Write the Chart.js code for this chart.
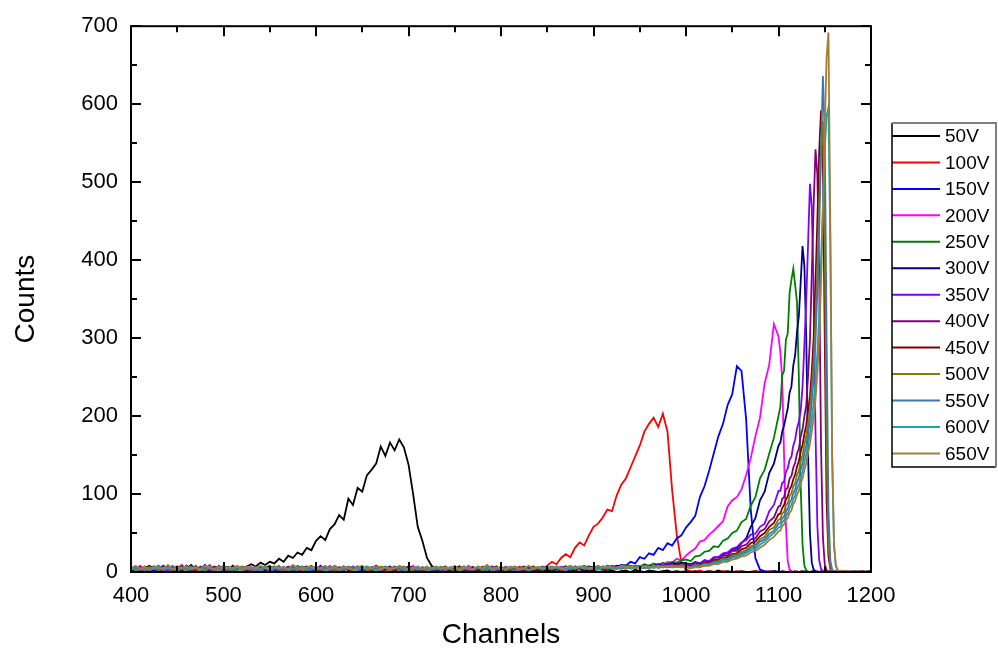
<!DOCTYPE html>
<html>
<head>
<meta charset="utf-8">
<script src="https://cdn.jsdelivr.net/npm/chart.js@4/dist/chart.umd.min.js"></script>
<style>
  html, body { margin: 0; padding: 0; background: #fff; }
  canvas { display: block; }
</style>
</head>
<body>
<canvas id="c" width="998" height="652"></canvas>
<script>
// ---------- DATA ----------
const channels = [
  400,405,410,415,420,425,430,435,440,445,450,455,460,465,470,475,480,485,490,495,
  500,505,510,515,520,525,530,535,540,545,550,555,560,565,570,575,580,585,590,595,
  600,605,610,615,620,625,630,635,640,645,650,655,660,665,670,675,680,685,690,695,
  700,705,710,715,720,725,730,735,740,745,750,755,760,765,770,775,780,785,790,795,
  800,805,810,815,820,825,830,835,840,845,850,855,860,865,870,875,880,885,890,895,
  900,905,910,915,920,925,930,935,940,945,950,955,960,965,970,975,980,985,990,995,
  1000,1005,1010,1015,1020,1025,1030,1035,1040,1045,1050,1055,1060,1065,1070,1075,1080,1085,1090,1095,
  1100,
  1102,1104,1106,1108,1110,1112,1114,1116,1118,1120,
  1122,1124,1126,1128,1130,1132,1134,1136,1138,1140,
  1142,1144,1146,1148,1150,1152,1154,1156,1158,1160,
  1162,1164,1166,1168,1170,1172,1174,1176,1178,1180,
  1182,1184,1186,1188,1190,1192,1194,1196,1198,1200
];

const seriesLabels = ['50V','100V','150V','200V','250V','300V','350V','400V','450V','500V','550V','600V','650V'];
const seriesColors = ['#000000','#FF0000','#0000FF','#FF00FF','#008000','#000080','#8000FF','#800080','#800000','#808000','#3F74B5','#1FA3A3','#A67C3A'];

const xTicks = [400,500,600,700,800,900,1000,1100,1200];
const yTicks = [0,100,200,300,400,500,600,700];

const v50 = [
  3,6,2,5,8,4,2,7,3,5, 1,6,4,9,3,5,2,7,4,3, 6,2,8,4,5,7,
  10,7,12,9,13,11,17,13,21,18, 25,22,31,28,40,46,41,55,61,73, 67,94,86,108,103,124,131,139,161,149, 166,156,170,160,138,100,58,40,18,8,
  3,1,4,2,0,3,1,5,2,0, 3,1,2,4,0,2,3,1,0,2, 4,1,3,2,
  1,3,0,2,4,1,2,0,3,1, 2,0,1,3,2,0,1,2,0,3, 1,0,2,1,0,1,2,0,1,0, 1,
  0,1,0,0,1,0,2,0,1,0, 0,1,0,0,1,0,0,0,1,0,
  0,1,0,0,0,1,0,0,1,0, 0,0,1,0,0,0,0,1,0,0, 0,0,0,1,0,0,0,0,0,1, 0,0,0,0,1,0,0,0,0,0, 1,0,0,0,0,0,0,1,0,0
];
const v100 = [
  4,2,6,3,1,5,7,2,4,3, 6,1,5,2,8,3,4,6,2,5, 3,7,1,4,6,2,
  5,3,7,2,4,6,1,5,3,8, 2,4,6,3,5,1,7,4,2,6, 3,5,2,7,4,1,6,3,5,2, 4,7,3,1,5,2,6,4,3,5,
  2,6,4,3,7,1,5,3,6,2, 4,8,3,5,2,6,4,3,7,2, 5,4,6,5,
  8,13,10,18,23,19,31,38,34,47, 58,62,70,80,78,98,112,120,134,148, 162,180,190,198,186,203,180,105,48,12, 3,
  1,0,2,0,1,0,0,1,0,0, 1,0,0,0,1,0,0,1,0,0,
  0,0,1,0,0,0,0,0,1,0, 0,1,0,0,0,0,0,0,0,1, 0,0,0,0,1,0,0,0,0,0, 0,1,0,0,0,0,1,0,0,0, 0,0,0,1,0,0,0,0,1,0
];
const v150 = [
  5,2,7,3,6,1,4,8,2,5, 3,7,4,2,6,3,9,1,5,4, 2,6,3,7,2,5,
  3,6,2,5,8,1,4,3,7,2, 5,4,6,1,3,8,2,5,4,3, 6,2,7,4,1,5,3,6,2,4, 7,3,5,2,6,4,1,5,3,6,
  4,2,6,3,5,1,7,3,4,2, 6,5,3,7,2,4,6,3,5,2, 4,7,3,5,
  4,6,3,5,7,4,6,3,5,7, 4,6,5,8,6,7,9,8,13,11, 19,17,24,22,31,28,37,34,43,47, 57,
  64,72,96,110,130,152,174,190,214,228, 264,258,196,80,18,3,1,0,1,0,
  0,1,0,0,0,0,1,0,0,0, 0,0,0,1,0,0,0,0,1,0, 1,0,0,0,0,0,0,1,0,0, 0,0,1,0,0,0,0,0,0,1, 0,0,0,0,0,1,0,0,0,0
];
const v200 = [
  6,3,8,2,5,4,7,1,6,3, 5,9,2,4,6,3,7,5,2,8, 4,3,6,2,5,7,
  4,7,2,6,3,5,8,2,4,6, 1,5,7,3,4,6,2,8,3,5, 4,7,2,6,3,5,1,6,4,7, 2,5,3,6,4,8,2,5,3,4,
  5,3,7,2,6,4,3,8,2,5, 6,3,4,7,2,5,3,6,4,2, 7,3,5,4,
  3,6,4,7,2,5,6,3,7,4, 6,5,3,7,5,6,4,8,6,5, 7,6,8,7,10,8,13,12,17,15, 21,
  26,30,39,41,48,53,59,65,84,92, 96,106,124,146,174,198,242,266,318,302,
  282,248,150,60,14,3,1,0,0,1, 0,0,0,0,1,0,0,0,0,0, 0,0,1,0,0,0,0,0,0,0, 0,1,0,0,0,0,0,1,0,0, 0,0,0,0,1,0,0,0,0,0
];
const v250 = [
  2,5,3,7,4,6,1,5,8,3, 4,2,6,5,3,7,2,4,6,3, 8,5,2,4,7,3,
  6,2,5,3,7,4,2,6,5,3, 8,4,2,5,6,3,7,2,4,5, 3,6,2,7,4,3,5,8,2,6, 4,3,5,7,2,4,6,3,5,2,
  3,6,4,2,7,5,3,4,6,2, 5,8,3,4,6,5,2,7,4,3, 5,6,4,7,
  5,3,6,4,7,5,3,6,8,5, 4,7,6,5,8,6,7,9,6,8, 7,10,8,11,9,12,10,13,12,15, 16,
  14,20,21,26,27,33,32,40,43,50, 53,64,68,85,96,120,131,152,172,200,
  212,252,258,298,306,358,375,389,368,346, 250,110,35,8,2,1,0,0,1,0, 0,0,0,1,0,0,0,0,0,0, 0,0,1,0,0,0,0,0,1,0, 0,0,0,0,0,1,0,0,0,0
];
const v300 = [
  4,1,6,3,5,7,2,4,3,6, 5,2,8,4,3,5,1,6,4,7, 3,2,5,6,4,3,
  5,3,6,2,4,7,3,5,2,6, 4,3,5,8,2,4,6,3,5,2, 7,4,3,6,5,2,4,7,3,5, 6,2,4,3,7,5,2,6,4,3,
  6,3,5,2,4,7,3,5,6,2, 4,3,7,5,2,6,4,3,5,7, 2,4,6,5,
  4,6,3,5,7,4,6,5,3,7, 5,6,4,7,5,8,6,7,5,8, 6,9,7,8,10,8,9,11,10,12, 11,
  10,13,11,15,13,18,19,23,24,29, 30,37,43,58,69,92,103,127,139,162,
  166,180,188,199,210,230,238,265,278,308, 328,372,418,392,300,150,50,12,3,1, 0,0,1,0,0,0,0,0,0,0, 0,0,0,1,0,0,0,0,0,0, 0,1,0,0,0,0,0,0,1,0
];
const v350 = [
  3,7,2,5,4,6,8,3,2,5, 7,4,3,6,2,5,4,9,3,5, 6,2,4,7,3,5,
  2,5,7,3,4,6,2,5,3,7, 4,2,6,5,3,4,7,2,5,6, 3,4,2,7,5,3,6,4,2,5, 3,7,4,6,2,5,3,4,6,2,
  5,2,4,6,3,7,4,2,5,3, 6,4,7,2,5,3,4,6,2,5, 7,3,4,6,
  6,4,5,3,6,7,4,5,6,3, 7,5,6,4,7,5,6,8,5,7, 6,8,7,6,9,7,8,10,8,9, 10,
  9,12,10,15,14,19,19,24,25,30, 32,38,41,48,49,58,62,78,86,104,
  104,114,116,128,133,144,148,162,170,184, 193,207,238,292,348,422,498,468,360,180, 60,15,4,1,0,0,0,1,0,0, 0,0,0,0,1,0,0,0,0,0, 0,0,1,0,0,0,0,0,0,0
];
const v400 = [
  5,3,6,2,7,4,3,5,6,2, 4,8,3,5,2,6,4,3,7,5, 2,4,6,3,5,4,
  6,3,4,7,2,5,3,6,4,2, 5,7,3,4,6,2,5,3,8,4, 2,6,5,3,4,7,2,5,3,6, 4,2,7,3,5,4,6,2,5,3,
  4,6,2,5,3,7,4,5,2,6, 3,4,5,7,2,4,6,3,5,2, 6,4,3,5,
  5,3,6,4,5,7,3,6,4,5, 7,4,6,5,4,7,5,6,8,5, 7,6,8,7,6,9,7,8,9,7, 9,
  8,10,10,13,12,16,16,21,21,27, 27,33,35,42,43,52,55,65,70,84,
  85,94,96,106,108,120,123,134,140,152, 158,174,183,200,214,252,298,382,470,542, 510,380,160,45,10,2,1,0,0,1, 0,0,0,0,0,1,0,0,0,0, 0,0,0,1,0,0,0,0,0,0
];
const v450 = [
  3,6,4,2,5,7,3,4,6,2, 5,3,8,4,2,6,3,5,4,7, 2,6,3,5,4,2,
  4,6,3,5,2,7,4,3,6,5, 2,4,7,3,5,2,6,4,3,5, 7,2,4,6,3,5,2,8,4,3, 6,2,5,4,7,3,5,2,4,6,
  3,5,7,2,4,6,3,5,4,2, 7,3,5,6,2,4,3,6,5,2, 4,7,3,5,
  4,6,5,3,6,4,7,5,4,6, 5,7,4,6,5,4,7,6,5,7, 6,5,8,6,7,6,8,7,9,8, 8,
  7,9,9,12,11,14,15,18,19,23, 24,29,31,37,39,46,50,58,63,74,
  75,82,86,93,97,106,110,119,125,135, 142,154,163,177,188,207,225,257,300,372, 450,540,592,520,300,90,20,4,1,0, 1,0,0,0,0,0,1,0,0,0, 0,0,0,0,1,0,0,0,0,0
];
const v500 = [
  6,2,4,7,3,5,2,6,4,3, 7,5,2,4,6,3,5,8,2,4, 3,6,5,2,7,4,
  3,5,2,6,4,7,3,5,2,4, 6,3,5,7,2,4,3,6,5,2, 7,4,3,5,6,2,4,3,7,5, 2,6,4,3,5,2,6,4,7,3,
  5,3,6,4,2,5,7,3,4,6, 2,5,3,4,7,2,5,6,3,4, 2,6,5,3,
  5,4,6,3,5,6,4,7,5,4, 6,5,7,4,6,5,7,5,6,8, 5,7,6,7,8,6,7,8,7,9, 7,
  6,9,8,11,10,13,14,17,17,21, 22,26,28,33,35,42,45,54,57,67,
  68,75,77,86,88,97,101,110,114,125, 130,142,149,164,174,192,209,237,270,322, 390,470,545,578,430,160,35,6,1,0, 0,1,0,0,0,0,0,0,1,0, 0,0,0,0,0,0,1,0,0,0
];
const v550 = [
  4,7,3,5,2,6,4,3,5,8, 2,4,6,3,5,2,7,4,3,6, 5,2,4,3,6,5,
  5,2,4,6,3,5,7,2,4,3, 6,5,2,4,7,3,5,6,2,4, 3,5,7,2,6,4,3,5,2,7, 4,6,3,5,2,4,6,3,5,4,
  6,4,3,5,7,2,4,6,3,5, 4,2,6,5,3,7,4,2,5,6, 3,4,5,6,
  5,7,4,6,5,3,7,6,4,5, 6,4,7,5,6,4,6,7,5,6, 8,6,5,7,6,8,7,6,8,7, 8,
  6,8,8,10,10,12,13,16,16,20, 21,24,26,31,33,39,42,49,53,62,
  63,69,71,78,81,89,93,101,106,115, 121,132,139,152,162,178,194,219,250,296, 360,440,540,636,560,300,80,15,3,1, 0,0,1,0,0,0,0,0,0,1, 0,0,0,0,0,0,0,1,0,0
];
const v600 = [
  7,3,5,2,6,4,8,3,5,4, 2,6,3,7,4,5,2,6,3,4, 7,5,3,6,2,4,
  4,6,3,7,2,5,4,6,3,5, 2,7,4,3,6,5,2,4,8,3, 5,6,2,4,3,7,5,2,4,6, 3,5,7,2,4,6,3,5,2,4,
  4,7,3,5,6,2,4,5,3,7, 4,6,2,5,3,4,6,7,3,5, 2,4,6,3,
  6,4,7,5,3,6,5,7,4,6, 5,3,6,7,4,6,5,7,4,6, 7,5,6,8,5,7,6,8,6,7, 6,
  5,7,7,9,9,11,12,14,15,18, 19,22,24,28,30,35,39,45,50,57,
  58,64,66,72,75,82,86,94,98,107, 112,122,129,141,150,164,177,196,217,246, 280,330,400,470,540,585,596,420,150,35, 8,2,1,0,0,0,1,0,0,0, 0,0,1,0,0,0,0,0,0,0
];
const v650 = [
  5,8,4,6,3,7,5,4,9,3, 6,5,7,4,6,3,8,5,4,7, 3,6,5,8,4,6,
  6,4,8,5,3,7,5,6,4,9, 5,3,6,7,4,5,8,3,6,4, 7,5,3,6,8,4,5,7,3,6, 5,4,8,6,3,5,7,4,6,5,
  7,4,6,5,8,3,6,5,4,7, 5,9,4,6,5,3,7,6,4,5, 8,4,6,5,
  6,5,7,4,6,8,5,6,7,4, 6,8,5,7,6,5,8,6,7,5, 6,8,7,5,7,6,8,6,7,6, 7,
  5,6,6,8,8,10,10,13,13,16, 17,20,21,25,27,31,35,41,45,52,
  53,59,61,67,69,76,79,87,91,99, 104,114,120,131,139,153,164,181,197,221, 255,300,370,460,570,660,692,450,150,35, 8,2,1,2,1,0,1,0,0,1, 0,0,0,1,0,0,0,0,0,0
];

const seriesValues = [v50,v100,v150,v200,v250,v300,v350,v400,v450,v500,v550,v600,v650];

// ---------- CHART ----------
const FONT = "'Liberation Sans', Arial, Helvetica, sans-serif";

const datasets = seriesValues.map((vals, i) => ({
  label: seriesLabels[i],
  data: vals.map((y, k) => ({ x: channels[k], y: y })),
  borderColor: seriesColors[i],
  backgroundColor: seriesColors[i],
  borderWidth: 1.8,
  pointRadius: 0,
  tension: 0,
  fill: false,
  order: seriesValues.length - i
}));

const whiteBg = {
  id: 'whiteBg',
  beforeDraw(chart) {
    const ctx = chart.ctx;
    ctx.save();
    ctx.fillStyle = '#ffffff';
    ctx.fillRect(0, 0, chart.width, chart.height);
    ctx.restore();
  }
};

const frameTicks = {
  id: 'frameTicks',
  afterDatasetsDraw(chart) {
    const { ctx, chartArea: a, scales } = chart;
    const xs = scales.x, ys = scales.y;
    ctx.save();
    ctx.strokeStyle = '#000';
    ctx.lineWidth = 2;
    ctx.lineCap = 'butt';
    const seg = (x1, y1, x2, y2) => { ctx.beginPath(); ctx.moveTo(x1, y1); ctx.lineTo(x2, y2); ctx.stroke(); };
    for (let k = 0; k < xTicks.length; k++) {
      const px = Math.round(xs.getPixelForValue(xTicks[k]));
      seg(px, a.bottom, px, a.bottom - 10);
      seg(px, a.top, px, a.top + 10);
      if (k < xTicks.length - 1) {
        const pm = Math.round(xs.getPixelForValue((xTicks[k] + xTicks[k + 1]) / 2));
        seg(pm, a.bottom, pm, a.bottom - 6);
        seg(pm, a.top, pm, a.top + 6);
      }
    }
    for (let k = 0; k < yTicks.length; k++) {
      const py = Math.round(ys.getPixelForValue(yTicks[k]));
      seg(a.left, py, a.left + 10, py);
      seg(a.right, py, a.right - 10, py);
      if (k < yTicks.length - 1) {
        const pm = Math.round(ys.getPixelForValue((yTicks[k] + yTicks[k + 1]) / 2));
        seg(a.left, pm, a.left + 6, pm);
        seg(a.right, pm, a.right - 6, pm);
      }
    }
    ctx.strokeRect(a.left, a.top, a.right - a.left, a.bottom - a.top);
    ctx.restore();
  }
};

const boxLegend = {
  id: 'boxLegend',
  afterDraw(chart) {
    const ctx = chart.ctx;
    const L = 892, T = 123, R = 996, B = 467;
    const rowTop = 136, rowGap = 26.45;
    ctx.save();
    chart.data.datasets.forEach((ds, i) => {
      const y = rowTop + i * rowGap;
      ctx.strokeStyle = ds.borderColor;
      ctx.lineWidth = 2;
      ctx.beginPath(); ctx.moveTo(L, y); ctx.lineTo(940, y); ctx.stroke();
      ctx.fillStyle = '#000';
      ctx.font = '19px ' + FONT;
      ctx.textAlign = 'left';
      ctx.textBaseline = 'middle';
      ctx.fillText(ds.label, 945, y + 1);
    });
    ctx.lineWidth = 1.5;
    ctx.strokeStyle = '#000';
    ctx.beginPath(); ctx.moveTo(L, T); ctx.lineTo(L, B); ctx.lineTo(R, B); ctx.stroke();
    ctx.strokeStyle = '#808080';
    ctx.lineWidth = 2;
    ctx.beginPath(); ctx.moveTo(L, T); ctx.lineTo(R, T); ctx.lineTo(R, B); ctx.stroke();
    ctx.restore();
  }
};

new Chart(document.getElementById('c'), {
  type: 'line',
  data: { datasets },
  options: {
    responsive: false,
    animation: false,
    events: [],
    layout: { padding: { left: 0, right: 127, top: 24, bottom: 0 } },
    plugins: { legend: { display: false }, tooltip: { enabled: false } },
    scales: {
      x: {
        type: 'linear',
        min: 400, max: 1200,
        afterBuildTicks(scale) { scale.ticks = xTicks.map(v => ({ value: v })); },
        afterFit(scale) { scale.height = 80; },
        ticks: { color: '#000', font: { family: FONT, size: 22 }, padding: 11, maxRotation: 0, autoSkip: false, callback: (v) => String(v) },
        grid: { display: false, drawTicks: false },
        border: { display: false },
        title: { display: true, text: 'Channels', color: '#000', font: { family: FONT, size: 28 }, padding: { top: 0, bottom: 0 } }
      },
      y: {
        min: 0, max: 700,
        afterBuildTicks(scale) { scale.ticks = yTicks.map(v => ({ value: v })); },
        afterFit(scale) { scale.width = 131; },
        ticks: { color: '#000', font: { family: FONT, size: 22 }, padding: 13, callback: (v) => String(v) },
        grid: { display: false, drawTicks: false },
        border: { display: false },
        title: { display: true, text: 'Counts', color: '#000', font: { family: FONT, size: 28 }, padding: { top: 9, bottom: 0 } }
      }
    }
  },
  plugins: [whiteBg, frameTicks, boxLegend]
});
</script>
</body>
</html>
